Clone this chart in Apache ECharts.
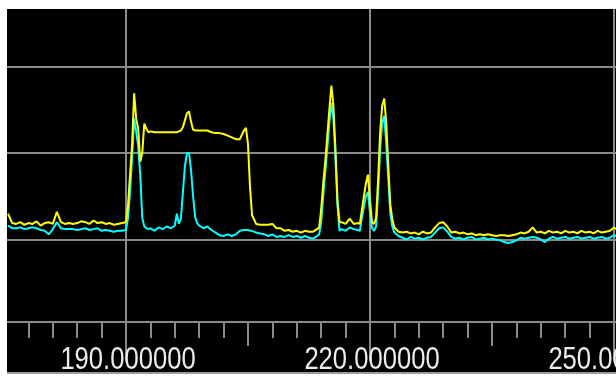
<!DOCTYPE html>
<html><head><meta charset="utf-8">
<script src="https://cdn.jsdelivr.net/npm/echarts@6/dist/echarts.min.js"></script>
<style>
html,body{margin:0;padding:0;background:#fff;width:616px;height:376px;overflow:hidden;}
#wrap{position:absolute;left:7px;top:9px;width:609px;height:363px;overflow:hidden;background:#000;}
#c{position:absolute;left:-127px;top:-39px;width:980px;height:406px;}
#edge{position:absolute;left:7px;top:372px;width:609px;height:2px;background:#9c9c9c;}
</style></head><body>
<div id="wrap"><div id="c"></div></div><div id="edge"></div>
<script>
// Frequency (x) values
const freq = [
175.5,176,176.5,177,177.5,178,178.5,179,179.5,180,180.5,181,181.5,182,182.5,183,183.5,184,184.5,185,185.5,186,186.5,187,187.5,188,188.5,189,189.5,
190,190.25,190.5,190.75,191,191.25,191.5,191.75,192,192.25,192.5,192.75,
193,193.5,194,194.5,195,195.5,196,196.25,196.5,196.75,197,197.25,197.5,197.75,198,198.25,198.5,198.75,199,199.5,200,200.5,201,201.5,202,202.5,203,203.5,204,204.5,204.75,205,205.25,205.5,206,206.5,207,207.5,208,208.5,209,
209.5,210,210.5,211,211.5,212,212.5,213,213.5,213.75,214,214.25,214.5,214.75,215,215.25,215.5,215.75,216,216.25,216.5,217,217.5,218,218.5,218.75,219,219.25,219.5,219.75,220,220.25,220.5,220.75,221,221.25,221.5,221.75,222,222.25,222.5,222.75,223,223.5,
224,224.5,225,225.5,226,226.5,227,227.5,228,228.5,229,229.5,230,230.5,231,231.5,232,232.5,233,233.5,234,234.5,235,235.5,236,236.5,237,237.5,238,238.5,239,239.5,240,240.5,241,241.5,242,242.5,243,243.5,244,244.5,245,245.5,246,246.5,247,247.5,248,248.5,249,249.5,250,250.25
];
// Yellow trace levels
const yellowTrace = [
13.0,11.9,11.8,12.0,11.7,11.9,11.8,12.1,11.6,11.9,12.0,11.8,13.2,12.0,11.8,11.9,11.8,11.9,12.1,12.0,11.8,12.2,11.9,12.0,11.8,11.9,11.7,11.8,11.9,
12.0,14.0,17.5,21.0,26.9,24.0,22.8,19.0,20.0,23.4,22.8,22.4,
22.5,22.4,22.4,22.4,22.4,22.4,22.4,22.4,22.5,22.6,23.0,23.8,24.6,24.8,23.6,22.7,22.6,22.6,22.6,22.6,22.6,22.4,22.3,22.3,22.2,22.0,21.8,21.6,21.6,22.6,22.9,21.0,16.0,12.8,11.8,11.7,11.7,11.7,11.8,11.3,11.3,
11.0,11.1,10.9,11.0,10.8,11.0,10.9,10.9,11.2,11.4,13.5,16.5,19.0,22.0,25.0,27.8,25.5,20.5,14.5,12.0,12.0,11.8,12.4,11.8,11.9,11.8,13.4,15.0,16.5,17.5,14.5,12.0,11.8,12.5,17.0,22.5,25.5,26.3,23.5,18.5,14.0,12.3,11.4,10.9,
10.8,10.9,10.7,10.8,10.6,10.9,10.7,10.8,11.4,11.9,12.0,11.5,10.8,10.9,10.7,10.8,10.6,10.7,10.5,10.6,10.5,10.6,10.5,10.4,10.5,10.5,10.4,10.5,10.6,10.8,10.7,10.9,11.4,10.8,10.9,10.7,11.0,10.8,10.9,10.7,11.0,10.8,10.9,10.7,11.0,10.8,10.9,10.7,11.0,10.8,10.9,11.0,11.4,11.2
];
// Cyan trace levels
const cyanTrace = [
11.6,11.3,11.3,11.4,11.2,11.3,11.4,11.3,11.1,11.0,10.6,11.2,12.0,11.3,11.2,11.2,11.2,11.1,11.2,11.3,11.1,11.2,11.3,11.0,11.1,11.0,10.9,11.0,11.0,
11.1,12.5,15.5,19.5,24.0,22.5,20.8,17.5,12.5,11.5,11.3,11.2,
11.3,11.0,11.4,11.2,11.5,11.3,11.6,13.0,11.8,12.4,15.5,18.5,20.0,20.0,18.0,15.0,12.6,11.9,11.6,11.3,11.5,11.1,10.8,10.5,10.4,10.6,10.4,10.6,11.0,11.1,11.1,11.1,11.0,11.0,10.8,10.7,10.6,10.4,10.6,10.3,10.4,
10.3,10.5,10.3,10.4,10.2,10.4,10.2,10.1,10.4,10.6,12.0,15.0,17.8,20.5,23.5,25.8,24.0,19.5,14.0,11.0,11.2,11.0,11.4,11.2,11.1,11.0,12.5,13.8,15.0,15.5,13.0,11.3,11.0,11.5,15.5,20.5,23.5,24.3,21.0,17.0,13.0,11.5,10.8,10.4,
10.2,10.0,10.3,10.1,10.2,10.0,10.2,10.3,10.8,11.3,11.4,10.9,10.3,10.1,10.2,10.0,10.2,10.3,10.0,10.1,10.2,10.0,10.1,10.0,9.9,9.7,9.6,9.7,9.9,10.2,10.1,10.2,10.3,10.2,10.0,9.7,10.1,10.3,10.1,10.2,10.3,10.1,10.2,10.3,10.1,10.2,10.3,10.1,10.2,10.3,10.1,10.2,10.5,10.4
];
// Tick label values on the frequency axis
const tickLabelValues = [190, 220, 250];
// Axis settings (labelled ticks every 30, medium ticks every 15, minor every 3)
const xMin = 160, xMax = 280;
const majorStep = 30, midStep = 15, minorStep = 3;
const yMin = 0, yMax = 40, yStep = 10;

const gridCol = '#8a8a8a';
const chart = echarts.init(document.getElementById('c'), null, {renderer: 'canvas'});
const pair = arr => freq.map((f, i) => [f, arr[i]]);

const tickGrid = {left: 2, right: 2, top: 10, bottom: 54};
function tickAxis(idx, step, len, line) {
  return {
    type: 'value', gridIndex: idx, min: xMin, max: xMax, interval: step,
    axisLine: {show: line, lineStyle: {color: gridCol, width: 2}},
    axisTick: {show: true, length: len, lineStyle: {color: gridCol, width: 2}},
    axisLabel: {show: false},
    splitLine: {show: false}
  };
}
function hiddenY(idx) {
  return {type: 'value', gridIndex: idx, min: 0, max: 1, show: false, splitLine: {show: false}};
}

chart.setOption({
  animation: false,
  backgroundColor: 'transparent',
  grid: [
    {left: 2, right: 2, top: 10, bottom: 50},
    tickGrid, tickGrid, tickGrid
  ],
  xAxis: [
    {type: 'value', gridIndex: 0, min: xMin, max: xMax, interval: majorStep,
      axisLine: {show: false}, axisTick: {show: false}, axisLabel: {show: false},
      splitLine: {show: true, lineStyle: {color: gridCol, width: 2}}},
    tickAxis(1, minorStep, 16, true),
    tickAxis(2, midStep, 24, false),
    tickAxis(3, majorStep, 39, false)
  ],
  yAxis: [
    {type: 'value', gridIndex: 0, min: yMin, max: yMax, interval: yStep,
      axisLine: {show: false}, axisTick: {show: false}, axisLabel: {show: false},
      splitLine: {show: true, showMinLine: false, showMaxLine: false, lineStyle: {color: gridCol, width: 2}}},
    hiddenY(1), hiddenY(2), hiddenY(3)
  ],
  series: [
    {type: 'line', xAxisIndex: 0, yAxisIndex: 0, data: pair(cyanTrace), showSymbol: false,
      lineStyle: {color: '#00ffff', width: 2}, itemStyle: {color: '#00ffff'}},
    {type: 'line', xAxisIndex: 0, yAxisIndex: 0, data: pair(yellowTrace), showSymbol: false,
      lineStyle: {color: '#ffff00', width: 2}, itemStyle: {color: '#ffff00'}}
  ]
});

// Condensed tick labels placed through the axis scale
chart.setOption({
  graphic: tickLabelValues.map(v => ({
    type: 'text',
    x: chart.convertToPixel({xAxisIndex: 3}, v) + 2,
    y: 390,
    scaleX: 0.8,
    z: 100,
    style: {
      text: v.toFixed(6),
      fill: '#ececec',
      font: '32px "Liberation Sans", Arial, sans-serif',
      align: 'center',
      verticalAlign: 'middle'
    }
  }))
});
</script>
</body></html>
